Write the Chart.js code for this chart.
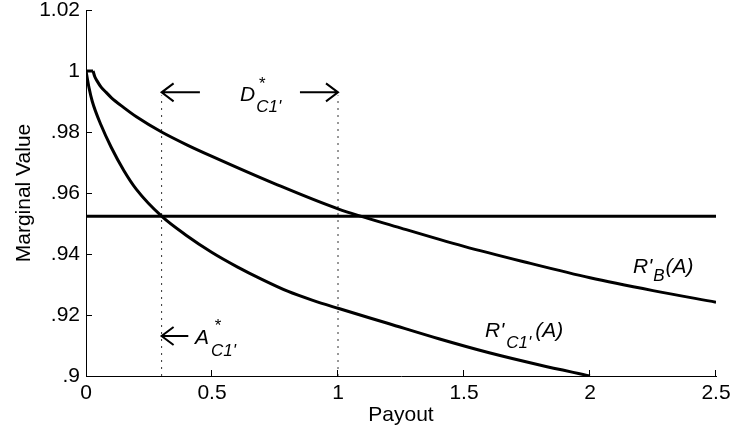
<!DOCTYPE html>
<html><head><meta charset="utf-8">
<script src="https://cdn.jsdelivr.net/npm/chart.js@4"></script>
<style>html,body{margin:0;padding:0;background:#fff}canvas{display:block}</style>
</head><body>
<canvas id="c" width="730" height="432"></canvas>
<script>
// ---- data ----
const payoutB = [0, 0.028, 0.035, 0.045, 0.06, 0.08, 0.1, 0.15, 0.2, 0.3, 0.4, 0.5, 0.75, 1.0, 1.25, 1.5, 1.75, 2.0, 2.25, 2.5];
const valueB  = [1.0, 1.0, 0.9981, 0.9966, 0.9947, 0.9930, 0.9913, 0.9880, 0.9850, 0.9800, 0.9758, 0.9720, 0.9630, 0.9548, 0.9485, 0.9425, 0.9372, 0.9322, 0.9280, 0.9242];
const payoutC1 = [0, 0.012, 0.025, 0.06, 0.1, 0.15, 0.2, 0.3, 0.4, 0.5, 0.6, 0.7, 0.8, 0.9, 1.0, 1.2, 1.4, 1.6, 1.8, 2.0];
const valueC1  = [1.0, 0.9945, 0.9900, 0.9822, 0.9750, 0.9674, 0.9612, 0.9524, 0.9460, 0.9405, 0.9358, 0.9316, 0.9278, 0.9248, 0.9222, 0.9172, 0.9122, 0.9076, 0.9036, 0.9000];
const discountLevel = 0.9524;
const payoutRange = [0, 2.5];
const aStarC1 = 0.3;
const dEndC1 = 1.0;
const dottedTop = 0.992;
const xTickValues = [0, 0.5, 1, 1.5, 2, 2.5];
const xTickLabels = ['0', '0.5', '1', '1.5', '2', '2.5'];
const yTickValues = [0.9, 0.92, 0.94, 0.96, 0.98, 1, 1.02];
const yTickLabels = ['.9', '.92', '.94', '.96', '.98', '1', '1.02'];

const FONT = "'Liberation Sans', Arial, Helvetica, sans-serif";
const pts = (xs, ys) => xs.map((v, i) => ({x: v, y: ys[i]}));

// annotations (in data coordinates)
const arrows = [
  {from: [0.452, 0.993], to: [aStarC1, 0.993]},
  {from: [0.849, 0.993], to: [dEndC1, 0.993]},
  {from: [0.406, 0.9131], to: [aStarC1, 0.9131]}
];
const texts = [
  {x: 2.1706, y: 0.93377, parts: [{t: "R'"}, {t: 'B', sub: 8, dx: 1}, {t: '(A)', dx: 1}]},
  {x: 1.5833, y: 0.91279, parts: [{t: "R'"}, {t: "C1'", sub: 11, dx: 2}, {t: '(A)', dx: 4}]},
  {x: 0.6111, y: 0.99026, parts: [{t: 'D'}, {t: '*', sup: 12, dx: 3}, {t: "C1'", sub: 11, dx: 1}]},
  {x: 0.4325, y: 0.91049, parts: [{t: 'A'}, {t: '*', sup: 13, dx: 5}, {t: "C1'", sub: 12, dx: 2}]}
];

const overlay = {
  id: 'overlay',
  afterDraw(chart) {
    const {ctx, chartArea: a} = chart;
    const x = chart.scales.x, y = chart.scales.y;
    ctx.save();
    ctx.strokeStyle = '#000';
    ctx.lineWidth = 1;
    ctx.beginPath();
    xTickValues.forEach(v => {
      if (v === payoutRange[0]) return;
      const px = Math.round(x.getPixelForValue(v)) - 0.5;
      ctx.moveTo(px, a.bottom); ctx.lineTo(px, a.bottom - 6);
    });
    yTickValues.forEach((v, i) => {
      if (i === 0) return;
      const py = Math.round(y.getPixelForValue(v)) + 0.5;
      ctx.moveTo(a.left, py); ctx.lineTo(a.left + 6, py);
    });
    ctx.stroke();

    ctx.lineWidth = 2;
    arrows.forEach(ar => {
      const x0 = x.getPixelForValue(ar.from[0]);
      const x1 = x.getPixelForValue(ar.to[0]);
      const py = y.getPixelForValue(ar.from[1]);
      const dir = Math.sign(x1 - x0);
      ctx.beginPath();
      ctx.moveTo(x0, py); ctx.lineTo(x1, py);
      ctx.moveTo(x1 - dir * 12, py - 9); ctx.lineTo(x1, py); ctx.lineTo(x1 - dir * 12, py + 9);
      ctx.stroke();
    });

    ctx.fillStyle = '#000';
    ctx.textBaseline = 'alphabetic';
    ctx.textAlign = 'left';
    texts.forEach(lb => {
      let cx = x.getPixelForValue(lb.x);
      const by = y.getPixelForValue(lb.y);
      lb.parts.forEach(p => {
        const small = p.sub !== undefined || p.sup !== undefined;
        ctx.font = `italic ${small ? 17 : 21}px ${FONT}`;
        const dy = p.sub !== undefined ? p.sub : (p.sup !== undefined ? -p.sup : 0);
        const sx = cx + (p.dx || 0);
        ctx.fillText(p.t, sx, by + dy);
        if (p.sup === undefined) cx = sx + ctx.measureText(p.t).width;
      });
    });
    ctx.restore();
  }
};

const lineDs = (data, extra) => Object.assign({
  data, showLine: true, borderColor: '#000', borderWidth: 3, pointRadius: 0,
  fill: false, cubicInterpolationMode: 'monotone'
}, extra || {});

const zeroPad = s => { s.paddingTop = 0; s.paddingBottom = 0; s.paddingLeft = 0; s.paddingRight = 0; };

new Chart(document.getElementById('c'), {
  type: 'scatter',
  data: {
    datasets: [
      // flat start of R'_B, then its curved part
      lineDs(pts(payoutB.slice(0, 2), valueB.slice(0, 2)), {cubicInterpolationMode: 'default', tension: 0}),
      lineDs(pts(payoutB.slice(1), valueB.slice(1))),
      lineDs(pts(payoutC1, valueC1)),
      lineDs(pts(payoutRange, [discountLevel, discountLevel]), {cubicInterpolationMode: 'default', tension: 0}),
      lineDs(pts([aStarC1, aStarC1], [yTickValues[0], dottedTop]), {borderWidth: 1, borderColor: '#333', borderDash: [2, 5], cubicInterpolationMode: 'default', tension: 0}),
      lineDs(pts([dEndC1, dEndC1], [yTickValues[0], dottedTop]), {borderWidth: 1, borderColor: '#333', borderDash: [2, 5], cubicInterpolationMode: 'default', tension: 0})
    ]
  },
  options: {
    responsive: false,
    animation: false,
    events: [],
    layout: {autoPadding: false, padding: {top: 10, right: 14, left: 0, bottom: 0}},
    plugins: {legend: {display: false}, tooltip: {enabled: false}},
    scales: {
      x: {
        type: 'linear', min: payoutRange[0], max: payoutRange[1],
        afterBuildTicks: s => { s.ticks = xTickValues.map(v => ({value: v})); },
        afterFit: s => { s.height = 56; zeroPad(s); },
        grid: {display: false, drawTicks: false},
        border: {display: true, color: '#000', width: 1},
        ticks: {
          autoSkip: false, maxRotation: 0, padding: 5, color: '#000',
          font: {family: FONT, size: 21},
          callback: v => xTickLabels[xTickValues.indexOf(v)]
        },
        title: {display: true, text: 'Payout', color: '#000', font: {family: FONT, size: 21}, padding: {top: 0, bottom: 4.5}}
      },
      y: {
        type: 'linear', min: yTickValues[0], max: yTickValues[yTickValues.length - 1],
        afterBuildTicks: s => { s.ticks = yTickValues.map(v => ({value: v})); },
        afterFit: s => { s.width = 86; zeroPad(s); },
        grid: {display: false, drawTicks: false},
        border: {display: true, color: '#000', width: 1},
        ticks: {
          autoSkip: false, padding: 6, color: '#000',
          font: {family: FONT, size: 21},
          callback: v => yTickLabels[yTickValues.indexOf(v)]
        },
        title: {display: true, text: 'Marginal Value', color: '#000', font: {family: FONT, size: 21}, padding: {top: 12, bottom: 0}}
      }
    }
  },
  plugins: [overlay]
});
</script>
</body></html>
